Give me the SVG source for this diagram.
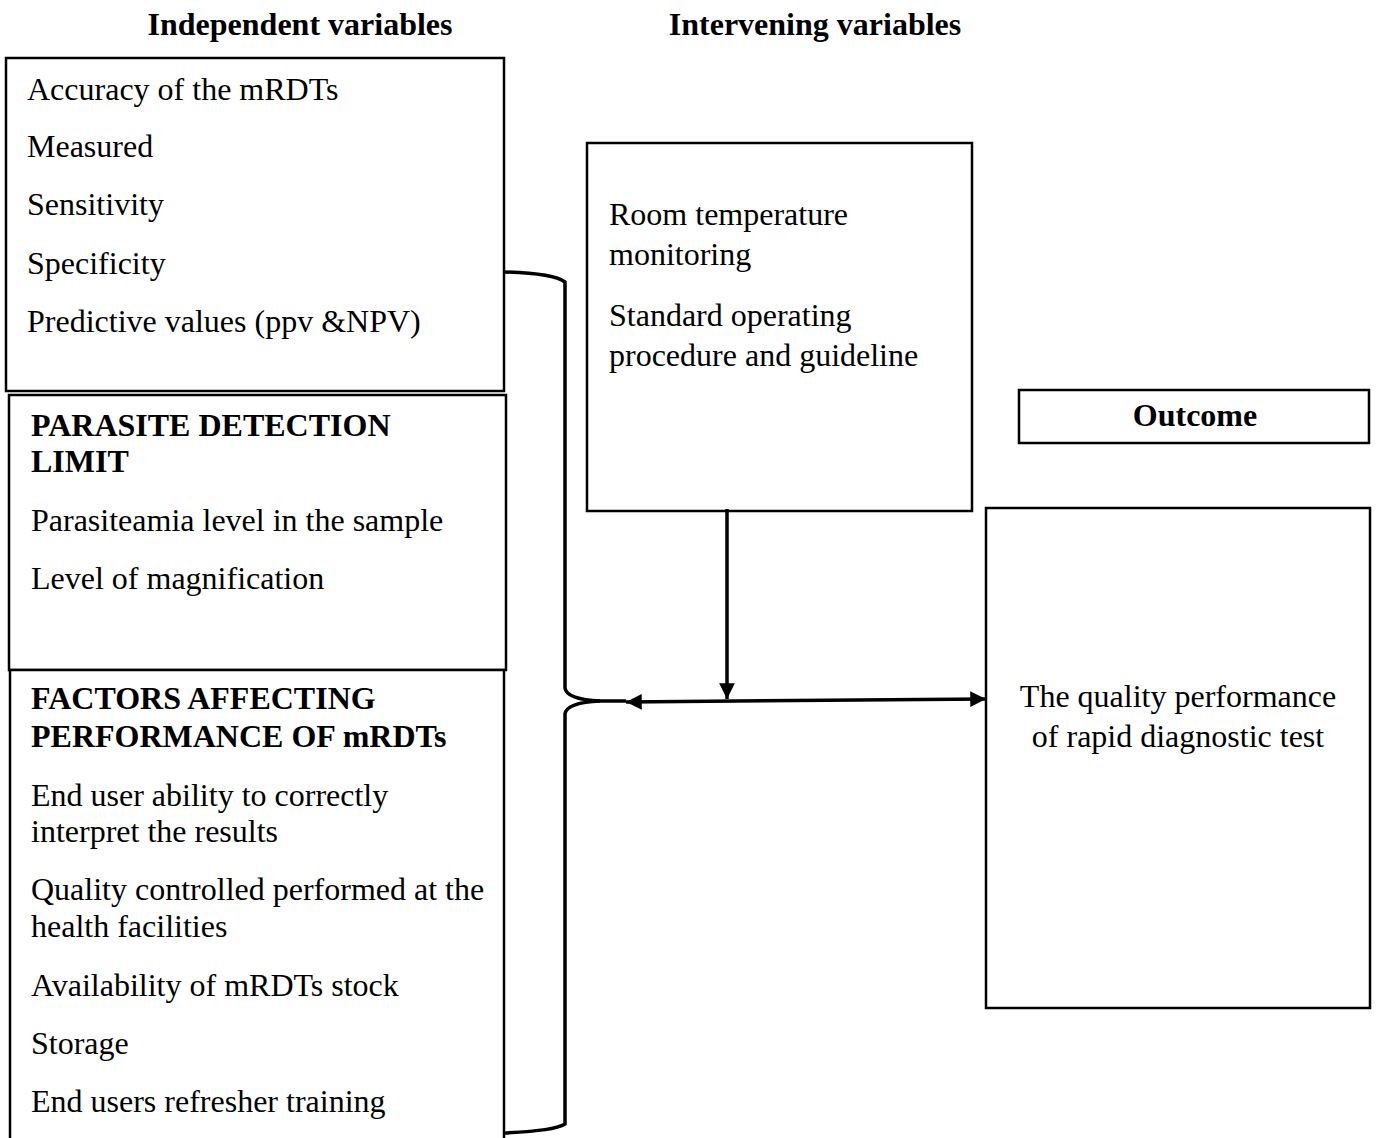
<svg xmlns="http://www.w3.org/2000/svg" width="1378" height="1138" viewBox="0 0 1378 1138">
<defs>
<style>
.t{font-family:"Liberation Serif","Times New Roman",serif;font-size:32px;fill:#000}
.b{font-family:"Liberation Serif","Times New Roman",serif;font-size:32px;font-weight:bold;fill:#000}
.box{fill:#fff;stroke:#000;stroke-width:2.5}
.ln{fill:none;stroke:#000;stroke-width:3.5}
</style>
<marker id="ah" viewBox="0 0 10 10" refX="10" refY="5" markerWidth="4.5" markerHeight="4.5" orient="auto-start-reverse" markerUnits="strokeWidth">
<path d="M0,0 L10,5 L0,10 z" fill="#000"/>
</marker>
</defs>
<rect width="1378" height="1138" fill="#fff"/>
<g id="titles">
<text class="b" x="300" y="35" text-anchor="middle">Independent variables</text>
<text class="b" x="815" y="35" text-anchor="middle">Intervening variables</text>
</g>
<g id="n-accuracy">
<rect class="box" x="6" y="58" width="498" height="333"/>
<text class="t" x="27" y="100">Accuracy of the mRDTs</text>
<text class="t" x="27" y="157">Measured</text>
<text class="t" x="27" y="215">Sensitivity</text>
<text class="t" x="27" y="274">Specificity</text>
<text class="t" x="27" y="332">Predictive values (ppv &amp;NPV)</text>
</g>
<g id="n-parasite">
<rect class="box" x="9" y="395" width="497" height="275"/>
<text class="b" x="31" y="436">PARASITE DETECTION</text>
<text class="b" x="31" y="472">LIMIT</text>
<text class="t" x="31" y="531">Parasiteamia level in the sample</text>
<text class="t" x="31" y="589">Level of magnification</text>
</g>
<g id="n-factors">
<rect class="box" x="10" y="670" width="494" height="480"/>
<text class="b" x="31" y="709">FACTORS AFFECTING</text>
<text class="b" x="31" y="747">PERFORMANCE OF mRDTs</text>
<text class="t" x="31" y="806">End user ability to correctly</text>
<text class="t" x="31" y="842">interpret the results</text>
<text class="t" x="31" y="900">Quality controlled performed at the</text>
<text class="t" x="31" y="937">health facilities</text>
<text class="t" x="31" y="996">Availability of mRDTs stock</text>
<text class="t" x="31" y="1054">Storage</text>
<text class="t" x="31" y="1112">End users refresher training</text>
</g>
<g id="n-intervening">
<rect class="box" x="587" y="143" width="385" height="368"/>
<text class="t" x="609" y="225">Room temperature</text>
<text class="t" x="609" y="265">monitoring</text>
<text class="t" x="609" y="326">Standard operating</text>
<text class="t" x="609" y="366">procedure and guideline</text>
</g>
<g id="n-outcome">
<rect class="box" x="1019" y="390" width="350" height="53"/>
<text class="b" x="1195" y="426" text-anchor="middle">Outcome</text>
</g>
<g id="n-result">
<rect class="box" x="986" y="508" width="384" height="500"/>
<text class="t" x="1178" y="707" text-anchor="middle">The quality performance</text>
<text class="t" x="1178" y="747" text-anchor="middle">of rapid diagnostic test</text>
</g>
<g id="connectors">
<path class="ln" d="M505,272 C540,273 557,276 565,282 L565,688 C566,696 580,700 600,701 C580,702 566,706 565,714 L565,1124 C557,1129 540,1131 505,1133"/>
<line class="ln" x1="598" y1="701" x2="626" y2="701"/>
<line class="ln" x1="626" y1="702" x2="986" y2="699" marker-start="url(#ah)" marker-end="url(#ah)"/>
<line class="ln" x1="727" y1="509" x2="727" y2="699" marker-end="url(#ah)"/>
</g>
</svg>
